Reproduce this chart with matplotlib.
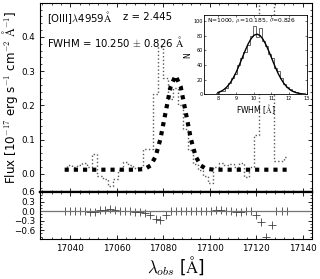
import matplotlib
matplotlib.use("Agg")
import matplotlib.pyplot as plt
from matplotlib.ticker import MultipleLocator

plt.rcParams["mathtext.fontset"] = "cm"
plt.rcParams["xtick.direction"] = "in"
plt.rcParams["ytick.direction"] = "in"
plt.rcParams["xtick.top"] = True
plt.rcParams["ytick.right"] = True

# --- spectrum (observed wavelength, flux, gaussian model, residual) ---
wave = [17037.6, 17039.8, 17041.9, 17044.1, 17046.3, 17048.4, 17050.6, 17052.8,
        17055.0, 17057.1, 17059.3, 17061.5, 17063.6, 17065.8, 17068.0, 17070.2,
        17072.3, 17074.5, 17076.7, 17078.8, 17081.0, 17083.2, 17085.3, 17087.5,
        17089.7, 17091.9, 17094.0, 17096.2, 17098.4, 17100.5, 17102.7, 17104.9,
        17107.0, 17109.2, 17111.4, 17113.6, 17115.7, 17117.9, 17120.1, 17122.2,
        17124.4, 17126.6, 17128.7, 17130.9, 17133.1]
flux = [0.015, 0.025, 0.020, 0.025, 0.033, 0.020, 0.058, -0.005,
        -0.015, -0.035, -0.015, 0.012, 0.035, 0.025, 0.018, 0.020,
        0.072, 0.072, 0.232, 0.370, 0.280, 0.220, 0.250, 0.200,
        0.130, 0.070, 0.030, 0.010, -0.005, -0.027, 0.020, 0.033,
        0.025, 0.030, 0.020, 0.033, -0.010, 0.019, 0.112, 0.750,
        0.900, 0.700, 0.038, 0.038, 0.048]
model = [0.012, 0.012, 0.012, 0.012, 0.012, 0.012, 0.012, 0.012,
         0.012, 0.012, 0.012, 0.012, 0.012, 0.012, 0.012, 0.013,
         0.015, 0.024, 0.050, 0.102, 0.179, 0.255, 0.287, 0.255,
         0.179, 0.102, 0.050, 0.024, 0.015, 0.013, 0.012, 0.012,
         0.012, 0.012, 0.012, 0.012, 0.012, 0.012, 0.012, 0.012,
         0.012, 0.012, 0.012, 0.012, 0.012]
resid = [0.00, 0.00, 0.00, 0.00, -0.01, -0.02, -0.03, 0.02,
         0.04, 0.05, 0.03, -0.01, -0.01, -0.01, -0.02, -0.02,
         -0.05, -0.13, -0.25, -0.27, -0.13, 0.00, 0.00, 0.01,
         0.00, 0.00, 0.01, 0.00, 0.00, 0.01, 0.03, 0.02,
         0.00, -0.01, -0.02, -0.02, -0.01, 0.00, -0.12, -0.35,
         -0.80, -0.45, 0.00, 0.00, 0.00]

# --- monte carlo FWHM histogram (inset) ---
bin_edges = [7.90, 8.07, 8.24, 8.41, 8.58, 8.75, 8.92, 9.09, 9.26, 9.43, 9.60,
             9.77, 9.94, 10.11, 10.28, 10.45, 10.62, 10.79, 10.96, 11.13, 11.30,
             11.47, 11.64, 11.81, 11.98, 12.15, 12.32, 12.49, 12.66, 12.83, 13.00]
counts = [2, 4, 5, 9, 16, 22, 28, 40, 50, 58, 67, 80, 93, 78, 90,
          72, 66, 55, 50, 36, 32, 22, 14, 10, 7, 4, 3, 1, 1, 0]
fit_x = [7.985, 8.155, 8.325, 8.495, 8.665, 8.835, 9.005, 9.175, 9.345, 9.515,
         9.685, 9.855, 10.025, 10.195, 10.365, 10.535, 10.705, 10.875, 11.045,
         11.215, 11.385, 11.555, 11.725, 11.895, 12.065, 12.235, 12.405,
         12.575, 12.745, 12.915]
fit_y = [2.4, 4.0, 6.5, 10.1, 15.1, 21.6, 29.5, 38.8, 48.9, 59.0, 68.3, 75.7,
         80.5, 82.0, 80.1, 74.9, 67.2, 57.9, 47.7, 37.6, 28.5, 20.7, 14.4,
         9.6, 6.1, 3.8, 2.2, 1.2, 0.6, 0.3]

fig = plt.figure(figsize=(3.2, 2.79), dpi=100)
ax = fig.add_axes([0.125, 0.312, 0.85, 0.677])
axr = fig.add_axes([0.125, 0.143, 0.85, 0.169], sharex=ax)

ax.step(wave, flux, where="mid", color="0.35", linestyle=":", linewidth=1.0)
ax.plot(wave, model, color="black", linewidth=3.0, linestyle=(0, (1.0, 1.2)))
ax.set_xlim(17027, 17144)
ax.set_ylim(-0.053, 0.499)
ax.yaxis.set_major_locator(MultipleLocator(0.1))
ax.yaxis.set_minor_locator(MultipleLocator(0.02))
ax.xaxis.set_major_locator(MultipleLocator(20))
ax.xaxis.set_minor_locator(MultipleLocator(4))
ax.tick_params(labelbottom=False, labelsize=6.3, length=3, width=0.6)
ax.tick_params(which="minor", length=1.5, width=0.5)
ax.set_ylabel(r"Flux [10$^{-17}$ erg s$^{-1}$ cm$^{-2}$ $\mathrm{\AA}^{-1}$]",
              fontsize=8.6, labelpad=1)
ax.text(0.025, 0.925, r"[OIII]$\lambda$4959$\mathrm{\AA}$", transform=ax.transAxes,
        fontsize=7.3, va="center")
ax.text(0.305, 0.925, "z = 2.445", transform=ax.transAxes, fontsize=7.3, va="center")
ax.text(0.025, 0.795, r"FWHM = 10.250 $\pm$ 0.826 $\mathrm{\AA}$",
        transform=ax.transAxes, fontsize=7.3, va="center")

axr.plot(wave, resid, linestyle="none", marker="+", markersize=5.5,
         markeredgewidth=0.6, color="0.25")
axr.axhline(0.0, color="0.45", linewidth=0.9)
axr.set_ylim(-0.88, 0.6)
axr.yaxis.set_major_locator(MultipleLocator(0.3))
axr.yaxis.set_minor_locator(MultipleLocator(0.1))
axr.tick_params(labelsize=6.3, length=3, width=0.6)
axr.tick_params(which="minor", length=1.5, width=0.5)
axr.set_xlabel(r"$\lambda_{obs}$ [$\mathrm{\AA}$]", fontsize=12, labelpad=1)
axr.spines["top"].set_linewidth(1.6)
ax.spines["bottom"].set_linewidth(1.6)

# inset
axi = fig.add_axes([0.6375, 0.662, 0.321, 0.284])
axi.stairs(counts, bin_edges, color="0.3", linewidth=0.6)
axi.plot(fit_x, fit_y, color="black", linewidth=1.0)
axi.set_xlim(7.2, 13.0)
axi.set_ylim(0, 108)
axi.xaxis.set_major_locator(MultipleLocator(1))
axi.yaxis.set_major_locator(MultipleLocator(20))
axi.tick_params(labelsize=3.5, length=1.5, width=0.4, pad=1)
axi.set_xlabel(r"FWHM [$\mathrm{\AA}$]", fontsize=5.5, labelpad=1)
axi.set_ylabel("N", fontsize=5.5, labelpad=1)
axi.text(0.03, 0.93, r"N=1000, $\mu$=10.185, $\sigma$=0.826", transform=axi.transAxes,
         fontsize=4.3, va="center")
for sp in axi.spines.values():
    sp.set_linewidth(0.6)

fig.savefig("out.png", dpi=100)
